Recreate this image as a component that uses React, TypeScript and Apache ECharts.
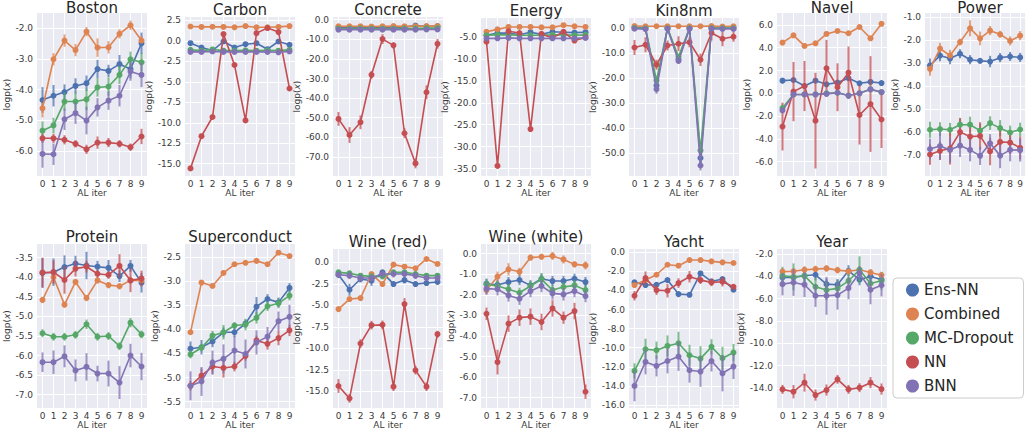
import React, { useEffect, useRef } from "react";
import * as echarts from "echarts";

const MODELS = ["Ens-NN", "Combined", "MC-Dropout", "NN", "BNN"];
const COLORS = ["#4C72B0", "#DD8452", "#55A868", "#C44E52", "#8172B3"];
const AL_ITERS = [0, 1, 2, 3, 4, 5, 6, 7, 8, 9];

// ---------- Boston ----------
const bostonMean = [
  [-4.34, -4.2, -4.08, -3.88, -3.79, -3.33, -3.39, -3.17, -3.33, -2.49],
  [-4.61, -3.01, -2.4, -2.71, -2.11, -2.63, -2.62, -2.18, -1.9, -2.4],
  [-5.34, -5.17, -4.39, -4.39, -4.32, -3.93, -3.9, -3.52, -3.01, -3.11],
  [-5.59, -5.59, -5.64, -5.77, -5.95, -5.73, -5.73, -5.77, -5.88, -5.53],
  [-6.1, -6.11, -4.97, -4.77, -5.01, -4.58, -4.36, -4.2, -3.41, -3.52],
];
const bostonErr = [
  [0.42, 0.35, 0.25, 0.25, 0.25, 0.3, 0.2, 0.3, 0.3, 0.35],
  [0.3, 0.2, 0.2, 0.2, 0.15, 0.3, 0.2, 0.15, 0.15, 0.15],
  [0.3, 0.25, 0.3, 0.3, 0.35, 0.3, 0.3, 0.3, 0.25, 0.3],
  [0.15, 0.15, 0.15, 0.12, 0.15, 0.2, 0.15, 0.12, 0.12, 0.25],
  [0.45, 0.35, 0.35, 0.35, 0.45, 0.3, 0.3, 0.35, 0.3, 0.4],
];
const bostonTicks = [-6, -5, -4, -3, -2];

// ---------- Carbon ----------
const carbonMean = [
  [-0.29, -0.82, -1.19, -0.08, -0.82, -0.41, -0.29, -1.02, -0.08, -0.49],
  [1.75, 1.7, 1.72, 1.7, 1.65, 1.8, 1.65, 1.65, 1.7, 1.8],
  [-1.1, -1.2, -1.05, -1.2, -1.2, -1.15, -1.2, -1.15, -1.2, -1.1],
  [-15.57, -11.64, -9.3, 0.82, -2.95, -9.71, 0.94, 1.56, 1.07, -5.82],
  [-1.35, -1.35, -1.3, -1.35, -1.35, -1.35, -1.35, -1.35, -1.4, -1.3],
];
const carbonErr = [
  [0.2, 0.2, 0.2, 0.25, 0.2, 0.2, 0.2, 0.2, 0.25, 0.2],
  [0.08, 0.08, 0.08, 0.08, 0.08, 0.08, 0.08, 0.08, 0.08, 0.08],
  [0.1, 0.1, 0.1, 0.1, 0.1, 0.1, 0.1, 0.1, 0.1, 0.1],
  [0.25, 0.25, 0.25, 0.25, 0.25, 0.25, 0.25, 0.25, 0.25, 0.25],
  [0.1, 0.1, 0.1, 0.1, 0.1, 0.1, 0.1, 0.1, 0.1, 0.1],
];
const carbonTicks = [-15, -12.5, -10, -7.5, -5, -2.5, 0, 2.5];

// ---------- Concrete ----------
const concreteMean = [
  [-3.9, -3.9, -3.9, -3.9, -3.9, -3.8, -3.8, -3.0, -3.5, -3.3],
  [-3.4, -3.4, -3.4, -3.5, -3.4, -3.3, -3.4, -3.4, -3.3, -3.3],
  [-4.6, -4.6, -4.5, -4.6, -4.6, -4.6, -4.5, -4.5, -4.3, -4.3],
  [-50.6, -58.8, -52.3, -28.1, -9.9, -13.1, -57.9, -73.3, -37.0, -12.3],
  [-5.1, -5.1, -5.1, -5.1, -5.1, -5.1, -5.1, -5.1, -5.0, -5.0],
];
const concreteErr = [
  [0.5, 0.5, 0.5, 0.5, 0.5, 0.5, 0.5, 0.6, 0.5, 0.5],
  [0.3, 0.3, 0.3, 0.3, 0.3, 0.3, 0.3, 0.3, 0.3, 0.3],
  [0.5, 0.5, 0.5, 0.5, 0.5, 0.5, 0.5, 0.5, 0.5, 0.5],
  [3.5, 4.0, 3.5, 2.0, 2.5, 1.5, 2.5, 2.5, 3.5, 2.5],
  [0.5, 0.5, 0.5, 0.5, 0.5, 0.5, 0.5, 0.5, 0.5, 0.5],
];
const concreteTicks = [-70, -60, -50, -40, -30, -20, -10, 0];

// ---------- Energy ----------
const energyMean = [
  [-4.6, -4.1, -4.1, -4.5, -3.9, -4.4, -3.8, -3.9, -4.0, -3.9],
  [-3.8, -3.25, -2.7, -2.7, -2.7, -2.8, -2.8, -2.3, -2.55, -2.7],
  [-4.6, -4.5, -4.5, -4.6, -4.6, -4.6, -4.5, -4.5, -4.6, -4.5],
  [-6.07, -34.4, -3.7, -4.1, -26.0, -4.3, -5.2, -3.8, -5.8, -5.1],
  [-5.3, -5.3, -5.2, -5.3, -5.3, -5.3, -5.3, -5.3, -5.3, -5.2],
];
const energyErr = [
  [0.3, 0.3, 0.3, 0.3, 0.3, 0.3, 0.3, 0.3, 0.3, 0.3],
  [0.2, 0.2, 0.2, 0.2, 0.2, 0.2, 0.2, 0.2, 0.2, 0.2],
  [0.3, 0.3, 0.3, 0.3, 0.3, 0.3, 0.3, 0.3, 0.3, 0.3],
  [0.5, 0.5, 0.4, 0.4, 0.5, 0.4, 0.4, 0.4, 0.5, 0.4],
  [0.3, 0.3, 0.3, 0.3, 0.3, 0.3, 0.3, 0.3, 0.3, 0.3],
];
const energyTicks = [-35, -30, -25, -20, -15, -10, -5];

// ---------- Kin8nm ----------
const kin8nmMean = [
  [0.1, 0.0, -23.0, 0.0, -12.5, 0.0, -52.0, 0.0, 0.0, 0.0],
  [0.8, 0.7, 0.7, 0.7, 0.7, 0.7, 0.7, 0.8, 0.6, 0.7],
  [0.0, -0.2, -21.0, -0.1, -11.5, -0.1, -49.0, -0.1, -0.1, -0.1],
  [-7.8, -6.7, -14.7, -7.0, -6.3, -5.7, -12.7, -2.0, -4.3, -3.5],
  [-0.3, -0.5, -24.5, -0.3, -13.2, -0.3, -55.0, -0.3, -0.4, -0.4],
];
const kin8nmErr = [
  [0.3, 0.3, 1.5, 0.3, 1.0, 0.3, 2.0, 0.3, 0.3, 0.3],
  [0.2, 0.2, 0.2, 0.2, 0.2, 0.2, 0.2, 0.2, 0.2, 0.2],
  [0.3, 0.3, 1.5, 0.3, 1.0, 0.3, 2.0, 0.3, 0.3, 0.3],
  [3.0, 3.0, 2.0, 2.0, 3.0, 2.0, 2.5, 3.0, 3.0, 2.0],
  [0.3, 0.3, 1.8, 0.3, 1.2, 0.3, 2.0, 0.3, 0.3, 0.3],
];
const kin8nmTicks = [-50, -40, -30, -20, -10, 0];

// ---------- Navel ----------
const navelMean = [
  [1.11, 1.17, 0.64, 1.11, 0.79, 0.94, 1.32, 0.88, 1.0, 0.9],
  [4.45, 5.09, 4.16, 4.39, 5.21, 5.47, 5.27, 5.82, 4.83, 6.1],
  [-1.3, -0.1, -0.1, -0.1, 0.0, 0.05, -0.2, 0.0, 0.35, 0.1],
  [-2.92, 0.15, 0.64, -2.4, 2.19, 0.53, 1.81, -1.9, -0.94, -2.3],
  [-1.5, -0.1, -0.1, -0.1, -0.05, 0.05, -0.2, 0.0, 0.35, 0.1],
];
const navelErr = [
  [0.25, 0.2, 0.2, 0.2, 0.2, 0.2, 0.2, 0.2, 0.2, 0.2],
  [0.2, 0.2, 0.2, 0.2, 0.2, 0.2, 0.2, 0.2, 0.2, 0.2],
  [0.3, 0.1, 0.1, 0.1, 0.1, 0.1, 0.1, 0.1, 0.1, 0.1],
  [2.1, 2.6, 2.2, 4.2, 2.5, 2.1, 2.3, 2.6, 4.2, 2.5],
  [0.2, 0.15, 0.15, 0.15, 0.15, 0.15, 0.15, 0.15, 0.15, 0.15],
];
const navelTicks = [-6, -4, -2, 0, 2, 4, 6];

// ---------- Power ----------
const powerMean = [
  [-3.1, -2.67, -2.8, -2.59, -2.85, -2.9, -2.93, -2.76, -2.71, -2.75],
  [-3.25, -2.36, -2.67, -2.08, -1.48, -1.92, -1.58, -1.74, -2.03, -1.8],
  [-5.91, -5.88, -5.91, -5.69, -5.69, -5.95, -5.62, -5.84, -6.03, -5.9],
  [-6.99, -6.83, -6.73, -6.01, -6.21, -6.18, -6.86, -6.44, -6.47, -6.7],
  [-6.75, -6.62, -6.79, -6.6, -6.79, -7.05, -6.5, -7.04, -6.79, -6.8],
];
const powerErr = [
  [0.3, 0.25, 0.25, 0.2, 0.2, 0.1, 0.25, 0.2, 0.2, 0.2],
  [0.3, 0.25, 0.25, 0.15, 0.35, 0.3, 0.2, 0.15, 0.2, 0.2],
  [0.35, 0.3, 0.3, 0.3, 0.35, 0.3, 0.3, 0.35, 0.3, 0.3],
  [0.45, 0.4, 0.7, 0.6, 0.5, 0.6, 0.6, 0.5, 0.5, 0.5],
  [0.45, 0.6, 0.55, 0.5, 0.5, 0.4, 0.4, 0.55, 0.5, 0.5],
];
const powerTicks = [-7, -6, -5, -4, -3, -2, -1];

// ---------- Protein ----------
const proteinMean = [
  [-3.89, -3.87, -3.74, -3.65, -3.7, -3.73, -3.76, -3.97, -3.71, -4.14],
  [-4.58, -4.0, -4.7, -4.12, -4.53, -4.08, -4.2, -4.23, -4.08, -4.08],
  [-5.43, -5.52, -5.52, -5.47, -5.2, -5.52, -5.5, -5.76, -5.16, -5.46],
  [-3.88, -3.87, -4.07, -3.78, -3.73, -3.91, -3.94, -3.71, -4.08, -4.03],
  [-6.17, -6.17, -6.02, -6.38, -6.29, -6.46, -6.46, -6.69, -6.0, -6.28],
];
const proteinErr = [
  [0.38, 0.35, 0.3, 0.2, 0.35, 0.15, 0.2, 0.15, 0.15, 0.25],
  [0.08, 0.08, 0.08, 0.08, 0.08, 0.08, 0.08, 0.08, 0.08, 0.08],
  [0.1, 0.1, 0.1, 0.1, 0.12, 0.1, 0.1, 0.1, 0.12, 0.1],
  [0.38, 0.3, 0.35, 0.2, 0.15, 0.1, 0.1, 0.3, 0.3, 0.2],
  [0.25, 0.3, 0.28, 0.28, 0.35, 0.2, 0.33, 0.42, 0.3, 0.35],
];
const proteinTicks = [-7, -6.5, -6, -5.5, -5, -4.5, -4, -3.5];

// ---------- Superconduct ----------
const superMean = [
  [-4.4, -4.37, -4.25, -4.06, -4.06, -3.88, -3.53, -3.37, -3.44, -3.14],
  [-4.06, -3.03, -3.1, -2.83, -2.65, -2.62, -2.58, -2.65, -2.41, -2.48],
  [-4.52, -4.38, -4.13, -4.06, -3.92, -3.9, -3.76, -3.52, -3.46, -3.3],
  [-5.17, -4.96, -4.77, -4.8, -4.77, -4.55, -4.23, -4.3, -4.18, -4.02],
  [-5.17, -5.08, -4.69, -4.61, -4.44, -4.51, -4.27, -4.15, -3.83, -3.74],
];
const superErr = [
  [0.15, 0.15, 0.12, 0.1, 0.1, 0.08, 0.2, 0.1, 0.1, 0.1],
  [0.02, 0.02, 0.02, 0.02, 0.02, 0.02, 0.02, 0.02, 0.02, 0.02],
  [0.08, 0.08, 0.1, 0.15, 0.07, 0.12, 0.12, 0.1, 0.1, 0.1],
  [0.1, 0.15, 0.15, 0.2, 0.1, 0.1, 0.1, 0.12, 0.15, 0.12],
  [0.3, 0.3, 0.25, 0.3, 0.3, 0.3, 0.25, 0.2, 0.2, 0.25],
];
const superTicks = [-5.5, -5, -4.5, -4, -3.5, -3, -2.5];

// ---------- Wine (red) ----------
const wineRedMean = [
  [-1.44, -3.19, -1.94, -2.14, -1.17, -2.53, -2.06, -2.53, -2.41, -2.29],
  [-5.44, -4.27, -4.16, -1.36, -2.53, -0.27, -0.51, -0.7, 0.39, -0.19],
  [-1.17, -1.28, -1.55, -1.63, -1.63, -1.17, -1.17, -1.36, -1.55, -1.55],
  [-14.38, -15.82, -9.44, -7.31, -7.27, -14.46, -4.86, -12.55, -14.46, -8.36],
  [-1.44, -1.55, -1.83, -1.83, -1.36, -1.36, -1.36, -1.55, -1.83, -1.83],
];
const wineRedErr = [
  [0.3, 0.7, 0.4, 0.6, 0.3, 0.3, 0.4, 0.3, 0.3, 0.3],
  [0.2, 0.2, 0.2, 0.2, 0.2, 0.2, 0.2, 0.2, 0.2, 0.2],
  [0.3, 0.3, 0.3, 0.3, 0.3, 0.3, 0.3, 0.3, 0.3, 0.3],
  [0.8, 0.5, 0.5, 0.5, 0.5, 0.5, 0.7, 0.5, 0.5, 0.4],
  [0.4, 0.4, 0.4, 0.4, 0.4, 0.4, 0.4, 0.4, 0.4, 0.4],
];
const wineRedTicks = [-15, -12.5, -10, -7.5, -5, -2.5, 0];

// ---------- Wine (white) ----------
const wineWhiteMean = [
  [-1.46, -1.52, -1.38, -1.28, -1.54, -1.22, -1.33, -1.33, -1.22, -1.38],
  [-1.77, -1.12, -0.76, -0.88, -0.19, -0.15, -0.11, -0.28, -0.52, -0.57],
  [-1.49, -1.57, -1.73, -1.9, -1.57, -1.25, -1.77, -1.62, -1.54, -1.77],
  [-2.92, -5.27, -3.4, -3.11, -3.06, -3.32, -2.66, -3.11, -2.79, -6.71],
  [-1.7, -1.73, -2.03, -2.19, -1.82, -1.57, -1.93, -1.98, -1.82, -2.06],
];
const wineWhiteErr = [
  [0.25, 0.25, 0.25, 0.25, 0.25, 0.25, 0.25, 0.25, 0.25, 0.25],
  [0.2, 0.25, 0.3, 0.2, 0.15, 0.15, 0.2, 0.2, 0.15, 0.2],
  [0.25, 0.25, 0.25, 0.25, 0.25, 0.3, 0.25, 0.25, 0.25, 0.25],
  [0.3, 0.6, 0.4, 0.4, 0.4, 0.4, 0.4, 0.3, 0.4, 0.35],
  [0.3, 0.3, 0.3, 0.3, 0.3, 0.3, 0.3, 0.3, 0.3, 0.3],
];
const wineWhiteTicks = [-7, -6, -5, -4, -3, -2, -1, 0];

// ---------- Yacht ----------
const yachtMean = [
  [-3.15, -3.43, -3.4, -2.91, -4.38, -4.45, -2.21, -3.05, -2.8, -3.92],
  [-3.43, -2.91, -2.35, -1.3, -1.4, -0.81, -0.81, -0.95, -1.05, -1.12],
  [-12.43, -10.16, -10.26, -9.81, -9.53, -10.79, -11.14, -9.91, -11.1, -10.51],
  [-4.55, -2.7, -3.96, -4.03, -3.22, -2.56, -2.91, -3.15, -3.08, -3.61],
  [-14.01, -11.49, -11.91, -11.39, -10.93, -12.36, -12.5, -11.39, -12.68, -11.98],
];
const yachtErr = [
  [0.2, 0.2, 0.2, 0.2, 0.2, 0.2, 0.2, 0.2, 0.2, 0.2],
  [0.2, 0.2, 0.2, 0.2, 0.2, 0.2, 0.2, 0.2, 0.2, 0.2],
  [0.8, 1.1, 0.9, 1.1, 1.2, 1.1, 1.3, 0.8, 1.2, 0.9],
  [0.5, 0.7, 0.5, 0.7, 0.5, 0.6, 0.4, 0.4, 0.5, 0.3],
  [1.6, 1.3, 1.1, 1.3, 1.5, 1.3, 1.6, 1.1, 1.9, 1.3],
];
const yachtTicks = [-16, -14, -12, -10, -8, -6, -4, -2, 0];

// ---------- Year ----------
const yearMean = [
  [-4.1, -4.1, -3.95, -3.86, -4.7, -4.75, -3.5, -4.3, -4.0, -4.3],
  [-3.58, -3.55, -3.41, -3.35, -3.29, -3.44, -3.55, -3.41, -3.65, -3.9],
  [-3.95, -4.04, -3.95, -4.94, -5.23, -5.08, -4.4, -3.41, -4.64, -4.4],
  [-14.13, -14.34, -13.53, -14.64, -14.19, -13.23, -14.13, -13.98, -13.53, -14.1],
  [-4.7, -4.55, -4.75, -5.74, -5.74, -5.68, -5.05, -3.71, -5.2, -4.8],
];
const yearErr = [
  [0.5, 0.5, 0.5, 0.5, 0.5, 0.5, 0.5, 0.5, 0.5, 0.5],
  [0.3, 0.3, 0.3, 0.3, 0.3, 0.3, 0.3, 0.3, 0.3, 0.3],
  [0.8, 1.2, 0.8, 0.8, 0.9, 0.8, 0.8, 1.2, 0.8, 0.8],
  [0.4, 0.6, 0.8, 0.5, 0.5, 0.4, 0.4, 0.4, 0.5, 0.5],
  [1.0, 1.2, 1.1, 1.0, 1.7, 1.3, 1.0, 0.6, 1.3, 1.0],
];
const yearTicks = [-14, -12, -10, -8, -6, -4, -2];

const FONT = "DejaVu Sans";
const TEXT = "#262626";
const TICK = "#3a3a3a";
const BG = "#EAEAF2";
const CHART_W = 1026;

const COL_LEFT = [37, 185, 333, 481, 629, 777, 925];
const PLOT_W = 110;
const ROW_BOTTOM = [176, 408];

const panels = [
  { title: "Boston", mean: bostonMean, err: bostonErr, ticks: bostonTicks, yMin: -6.82, yMax: -1.5, col: 0, row: 0, top: 13 },
  { title: "Carbon", mean: carbonMean, err: carbonErr, ticks: carbonTicks, yMin: -16.5, yMax: 2.91, col: 1, row: 0, top: 17 },
  { title: "Concrete", mean: concreteMean, err: concreteErr, ticks: concreteTicks, yMin: -79.7, yMax: 1.36, col: 2, row: 0, top: 17 },
  { title: "Energy", mean: energyMean, err: energyErr, ticks: energyTicks, yMin: -36.7, yMax: -0.66, col: 3, row: 0, top: 18 },
  { title: "Kin8nm", mean: kin8nmMean, err: kin8nmErr, ticks: kin8nmTicks, yMin: -59.2, yMax: 4.0, col: 4, row: 0, top: 18 },
  { title: "Navel", mean: navelMean, err: navelErr, ticks: navelTicks, yMin: -7.26, yMax: 7.05, col: 5, row: 0, top: 13 },
  { title: "Power", mean: powerMean, err: powerErr, ticks: powerTicks, yMin: -7.93, yMax: -0.81, col: 6, row: 0, top: 13 },
  { title: "Protein", mean: proteinMean, err: proteinErr, ticks: proteinTicks, yMin: -7.34, yMax: -3.15, col: 0, row: 1, top: 244 },
  { title: "Superconduct", mean: superMean, err: superErr, ticks: superTicks, yMin: -5.63, yMax: -2.23, col: 1, row: 1, top: 244 },
  { title: "Wine (red)", mean: wineRedMean, err: wineRedErr, ticks: wineRedTicks, yMin: -16.94, yMax: 1.55, col: 2, row: 1, top: 249 },
  { title: "Wine (white)", mean: wineWhiteMean, err: wineWhiteErr, ticks: wineWhiteTicks, yMin: -7.5, yMax: 0.47, col: 3, row: 1, top: 244 },
  { title: "Yacht", mean: yachtMean, err: yachtErr, ticks: yachtTicks, yMin: -16.32, yMax: 0.35, col: 4, row: 1, top: 249 },
  { title: "Year", mean: yearMean, err: yearErr, ticks: yearTicks, yMin: -15.8, yMax: -1.55, col: 5, row: 1, top: 249 },
];

function buildOption() {
  const grid: any[] = [];
  const xAxis: any[] = [];
  const yAxis: any[] = [];
  const series: any[] = [];
  const graphic: any[] = [];

  panels.forEach((p, k) => {
    const left = COL_LEFT[p.col];
    const height = ROW_BOTTOM[p.row] - p.top;
    grid.push({
      left,
      top: p.top,
      right: CHART_W - left - PLOT_W,
      height,
      show: true,
      backgroundColor: BG,
      borderWidth: 0,
      containLabel: false,
    });
    xAxis.push({
      type: "value",
      gridIndex: k,
      min: -0.5,
      max: 9.5,
      axisLine: { show: false },
      axisTick: { show: false, customValues: AL_ITERS },
      axisLabel: {
        customValues: AL_ITERS,
        fontSize: 9,
        color: TICK,
        fontFamily: FONT,
        margin: 3,
      },
      splitLine: { show: true, lineStyle: { color: "#ffffff", width: 1 } },
      name: "AL iter",
      nameLocation: "middle",
      nameGap: 12,
      nameTextStyle: { fontSize: 9, color: TICK, fontFamily: FONT },
    });
    yAxis.push({
      type: "value",
      gridIndex: k,
      min: p.yMin,
      max: p.yMax,
      axisLine: { show: false },
      axisTick: { show: false, customValues: p.ticks },
      axisLabel: {
        customValues: p.ticks,
        fontSize: 9,
        color: TICK,
        fontFamily: FONT,
        margin: 4,
        formatter: (v: number) => v.toFixed(1),
      },
      splitLine: { show: true, lineStyle: { color: "#ffffff", width: 1 } },
      name: "logp({i|x})",
      nameLocation: "middle",
      nameGap: 21,
      nameRotate: 90,
      nameTextStyle: {
        fontSize: 9,
        color: TICK,
        fontFamily: FONT,
        rich: { i: { fontSize: 9, fontStyle: "italic", color: TICK, fontFamily: FONT } },
      },
    });
    graphic.push({
      type: "text",
      x: left + PLOT_W / 2,
      y: Math.max(p.top - 7.5, 7.6),
      silent: true,
      style: {
        text: p.title,
        fontSize: 15,
        fontFamily: FONT,
        fill: TEXT,
        textAlign: "center",
        textVerticalAlign: "middle",
      },
    });

    MODELS.forEach((m, s) => {
      const color = COLORS[s];
      series.push({
        type: "line",
        name: m,
        xAxisIndex: k,
        yAxisIndex: k,
        data: AL_ITERS.map((it, i) => [it, p.mean[s][i]]),
        symbol: "circle",
        symbolSize: 6,
        showSymbol: true,
        lineStyle: { color, width: 1.6 },
        itemStyle: { color },
        z: 3 + s,
        silent: true,
      });
      series.push({
        type: "custom",
        name: m,
        xAxisIndex: k,
        yAxisIndex: k,
        data: AL_ITERS.map((it, i) => [it, p.mean[s][i], p.err[s][i]]),
        encode: { x: 0, y: 1 },
        itemStyle: { color },
        z: 2 + s,
        silent: true,
        renderItem: (params: any, api: any) => {
          const x = api.value(0);
          const y = api.value(1);
          const e = api.value(2);
          const a = api.coord([x, y - e]);
          const b = api.coord([x, y + e]);
          return {
            type: "line",
            shape: { x1: a[0], y1: a[1], x2: b[0], y2: b[1] },
            style: { stroke: color, lineWidth: 2, opacity: 0.75 },
          };
        },
      });
    });
  });

  return {
    animation: false,
    color: COLORS,
    grid,
    xAxis,
    yAxis,
    series,
    graphic,
    legend: {
      data: MODELS.map((n) => ({ name: n, icon: "circle" })),
      orient: "vertical",
      left: 893,
      top: 278,
      itemWidth: 13,
      itemHeight: 13,
      itemGap: 8,
      selectedMode: false,
      padding: [4, 10, 4, 13],
      backgroundColor: "#ffffff",
      borderColor: "#cccccc",
      borderWidth: 1,
      borderRadius: 4,
      textStyle: { fontSize: 15, color: TEXT, fontFamily: FONT, lineHeight: 16 },
    },
  };
}

export default function App() {
  const ref = useRef<HTMLDivElement>(null);
  useEffect(() => {
    if (!ref.current) return;
    const chart = echarts.init(ref.current, undefined, { renderer: "svg" });
    chart.setOption(buildOption() as any);
    return () => chart.dispose();
  }, []);
  return (
    <div
      ref={ref}
      style={{ position: "absolute", left: 0, top: 0, width: CHART_W, height: 432, background: "#ffffff" }}
    />
  );
}
